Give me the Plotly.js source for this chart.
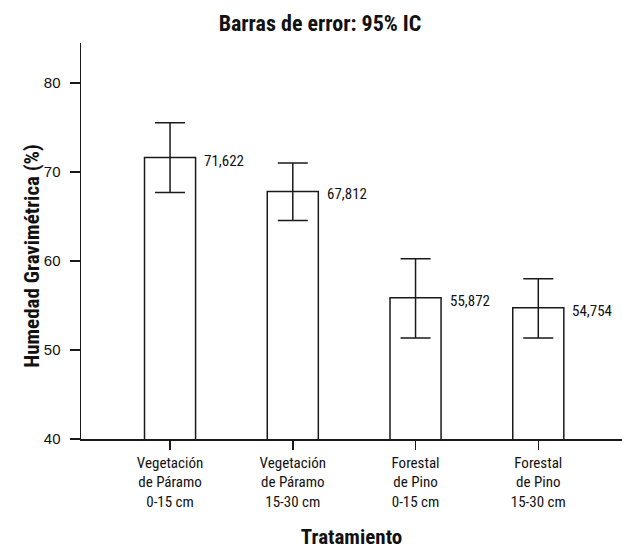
<!DOCTYPE html>
<html>
<head>
<meta charset="utf-8">
<script src="https://cdn.plot.ly/plotly-3.0.1.min.js"></script>
<style>html,body{margin:0;padding:0;background:#fff;}#chart{width:622px;height:549px;}</style>
</head>
<body>
<div id="chart"></div>
<script>
const categories = [
  "Vegetación<br>de Páramo<br>0-15 cm",
  "Vegetación<br>de Páramo<br>15-30 cm",
  "Forestal<br>de Pino<br>0-15 cm",
  "Forestal<br>de Pino<br>15-30 cm"
];
const means = [71.622, 67.812, 55.872, 54.754];
const ciUpper = [75.54, 71.01, 60.26, 58.01];
const ciLower = [67.70, 64.55, 51.35, 51.35];
const valueLabels = ["71,622", "67,812", "55,872", "54,754"];
const yTicks = [40, 50, 60, 70, 80];

const FONT = "'Roboto Condensed', 'Noto Sans Condensed', 'Open Sans Condensed', 'Liberation Sans Narrow', 'DejaVu Sans Condensed', sans-serif";
const idx = categories.map((_, i) => i);

const trace = {
  type: "bar",
  x: idx,
  y: means,
  width: 0.416,
  marker: {color: "#ffffff", line: {color: "#1a1a1a", width: 1.5}},
  error_y: {
    type: "data",
    symmetric: false,
    array: ciUpper.map((u, i) => u - means[i]),
    arrayminus: ciLower.map((l, i) => means[i] - l),
    color: "#1a1a1a",
    thickness: 1.5,
    width: 15
  },
  hoverinfo: "skip"
};

const annotations = idx.map(i => ({
  x: i, y: means[i], xref: "x", yref: "y",
  text: valueLabels[i], showarrow: false,
  xanchor: "left", yanchor: "middle",
  xshift: 32, yshift: -3,
  font: {family: FONT, size: 15, color: "#111"}
}));
annotations.push({
  x: (32 - 81) / 541, y: 1 - (256.7 - 43) / 396, xref: "paper", yref: "paper",
  text: "<b>Humedad Gravimétrica (%)</b>", showarrow: false, textangle: -90,
  xanchor: "center", yanchor: "middle",
  font: {family: FONT, size: 21, color: "#111"}
});

const layout = {
  width: 622, height: 549,
  margin: {l: 81, r: 0, t: 43, b: 110},
  paper_bgcolor: "#fff", plot_bgcolor: "#fff",
  showlegend: false,
  title: {
    text: "<b>Barras de error: 95% IC</b>",
    x: 320/622, xref: "container", xanchor: "center",
    y: 1 - 23/549, yref: "container", yanchor: "middle",
    font: {family: FONT, size: 22, color: "#111"}
  },
  xaxis: {
    range: [-0.7254, 3.682],
    tickmode: "array", tickvals: idx, ticktext: categories,
    ticks: "outside", ticklen: 9, tickwidth: 1.5, tickcolor: "#1a1a1a",
    showline: true, linecolor: "#1a1a1a", linewidth: 1.5,
    showgrid: false, zeroline: false,
    tickfont: {family: FONT, size: 15, color: "#111"},
    title: {text: "<b>Tratamiento</b>", standoff: 21, font: {family: FONT, size: 21, color: "#111"}}
  },
  yaxis: {
    range: [40, 84.49],
    tickmode: "array", tickvals: yTicks, ticktext: yTicks.map(String),
    ticks: "outside", ticklen: 10, tickwidth: 1.5, tickcolor: "#1a1a1a",
    ticklabelstandoff: 6,
    showline: true, linecolor: "#1a1a1a", linewidth: 1.5,
    showgrid: false, zeroline: false,
    tickfont: {family: "'Liberation Sans', Arial, sans-serif", size: 15, color: "#111"}
  },
  annotations: annotations
};

Plotly.newPlot("chart", [trace], layout, {displayModeBar: false, staticPlot: true});
</script>
</body>
</html>
